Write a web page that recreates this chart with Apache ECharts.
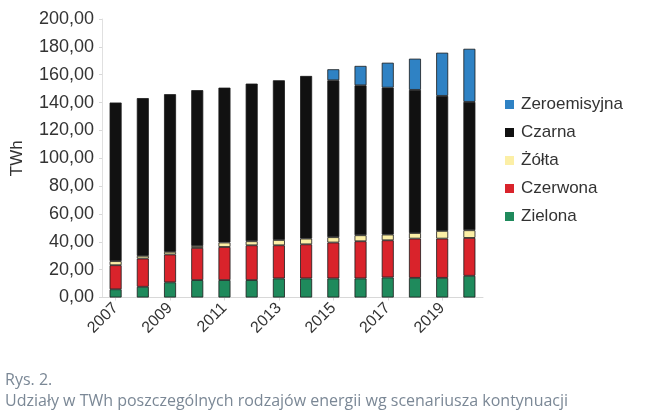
<!DOCTYPE html>
<html>
<head>
<meta charset="utf-8">
<script src="https://cdn.jsdelivr.net/npm/echarts@6/dist/echarts.min.js"></script>
<style>
html,body{margin:0;padding:0;background:#fff;}
#chart{width:672px;height:417px;}
</style>
</head>
<body>
<div id="chart"></div>
<script>
var years = ['2007','2008','2009','2010','2011','2012','2013','2014','2015','2016','2017','2018','2019','2020'];
var zielona      = [5.9, 7.7, 10.9, 12.5, 12.5, 12.5, 13.7, 13.7, 13.7, 13.7, 14.4, 14.1, 14.1, 15.6];
var czerwona     = [17.3, 20.3, 20.0, 23.1, 23.8, 25.0, 23.8, 24.5, 25.8, 26.7, 26.7, 28.2, 28.2, 27.2];
var zolta        = [2.9, 1.9, 1.9, 1.4, 3.2, 2.9, 3.8, 4.1, 3.8, 4.3, 4.1, 4.0, 5.5, 5.5];
var czarna       = [113.9, 113.3, 113.2, 111.9, 111.2, 113.2, 114.7, 116.8, 112.7, 107.7, 105.5, 102.8, 97.0, 92.2];
var zeroemisyjna = [0, 0, 0, 0, 0, 0, 0, 0, 7.9, 13.9, 17.9, 22.4, 31.0, 38.1];
var yTicks = [0, 20, 40, 60, 80, 100, 120, 140, 160, 180, 200];

var seriesDefs = [
  {name: 'Zielona', data: zielona, color: '#1f8a5c'},
  {name: 'Czerwona', data: czerwona, color: '#d9232b'},
  {name: 'Żółta', data: zolta, color: '#fcefa6'},
  {name: 'Czarna', data: czarna, color: '#111111'},
  {name: 'Zeroemisyjna', data: zeroemisyjna, color: '#2f82c4'}
];

var chart = echarts.init(document.getElementById('chart'), null, {renderer: 'canvas'});
var font = 'Liberation Sans, Arial, sans-serif';
chart.setOption({
  animation: false,
  backgroundColor: '#ffffff',
  grid: {left: 102, top: 19, width: 381, height: 278.5, containLabel: false},
  legend: {
    orient: 'vertical',
    left: 500,
    top: 91,
    itemWidth: 9,
    itemHeight: 9,
    itemGap: 11,
    icon: 'rect',
    itemStyle: {borderWidth: 0},
    data: ['Zeroemisyjna', 'Czarna', 'Żółta', 'Czerwona', 'Zielona'],
    textStyle: {fontFamily: font, fontSize: 17, color: '#333', padding: [0, 0, 0, 2]}
  },
  xAxis: {
    type: 'category',
    data: years,
    axisLine: {show: true, lineStyle: {color: '#d8d8d8'}},
    axisTick: {show: true, alignWithLabel: true, length: 3, lineStyle: {color: '#d8d8d8'}},
    axisLabel: {interval: 1, rotate: 45, fontFamily: font, fontSize: 16, color: '#333', margin: 8}
  },
  yAxis: {
    type: 'value',
    min: 0, max: 200, interval: 20,
    name: 'TWh',
    nameLocation: 'middle',
    nameGap: 76,
    nameRotate: 90,
    nameTextStyle: {fontFamily: font, fontSize: 17, color: '#333'},
    axisLine: {show: true, lineStyle: {color: '#e0e0e0'}},
    axisTick: {show: true, length: 3, lineStyle: {color: '#d8d8d8'}},
    splitLine: {show: false},
    axisLabel: {
      fontFamily: font, fontSize: 18, color: '#333', margin: 8,
      formatter: function (v) { return yTicks.indexOf(v) >= 0 ? v.toFixed(2).replace('.', ',') : ''; }
    }
  },
  series: seriesDefs.map(function (s) {
    return {
      name: s.name,
      type: 'bar',
      stack: 'total',
      barWidth: 12,
      data: s.data.map(function (v) { return v === 0 ? '-' : v; }),
      itemStyle: {color: s.color, borderColor: '#1a1a1a', borderWidth: 0.8}
    };
  }),
  graphic: [
    {type: 'text', left: 5, top: 372, style: {text: 'Rys. 2.', font: '16px "Open Sans", sans-serif', fill: '#7b8896'}},
    {type: 'text', left: 5, top: 393, style: {text: 'Udziały w TWh poszczególnych rodzajów energii wg scenariusza kontynuacji', font: '16px "Open Sans", sans-serif', fill: '#7b8896'}}
  ]
});
</script>
</body>
</html>
